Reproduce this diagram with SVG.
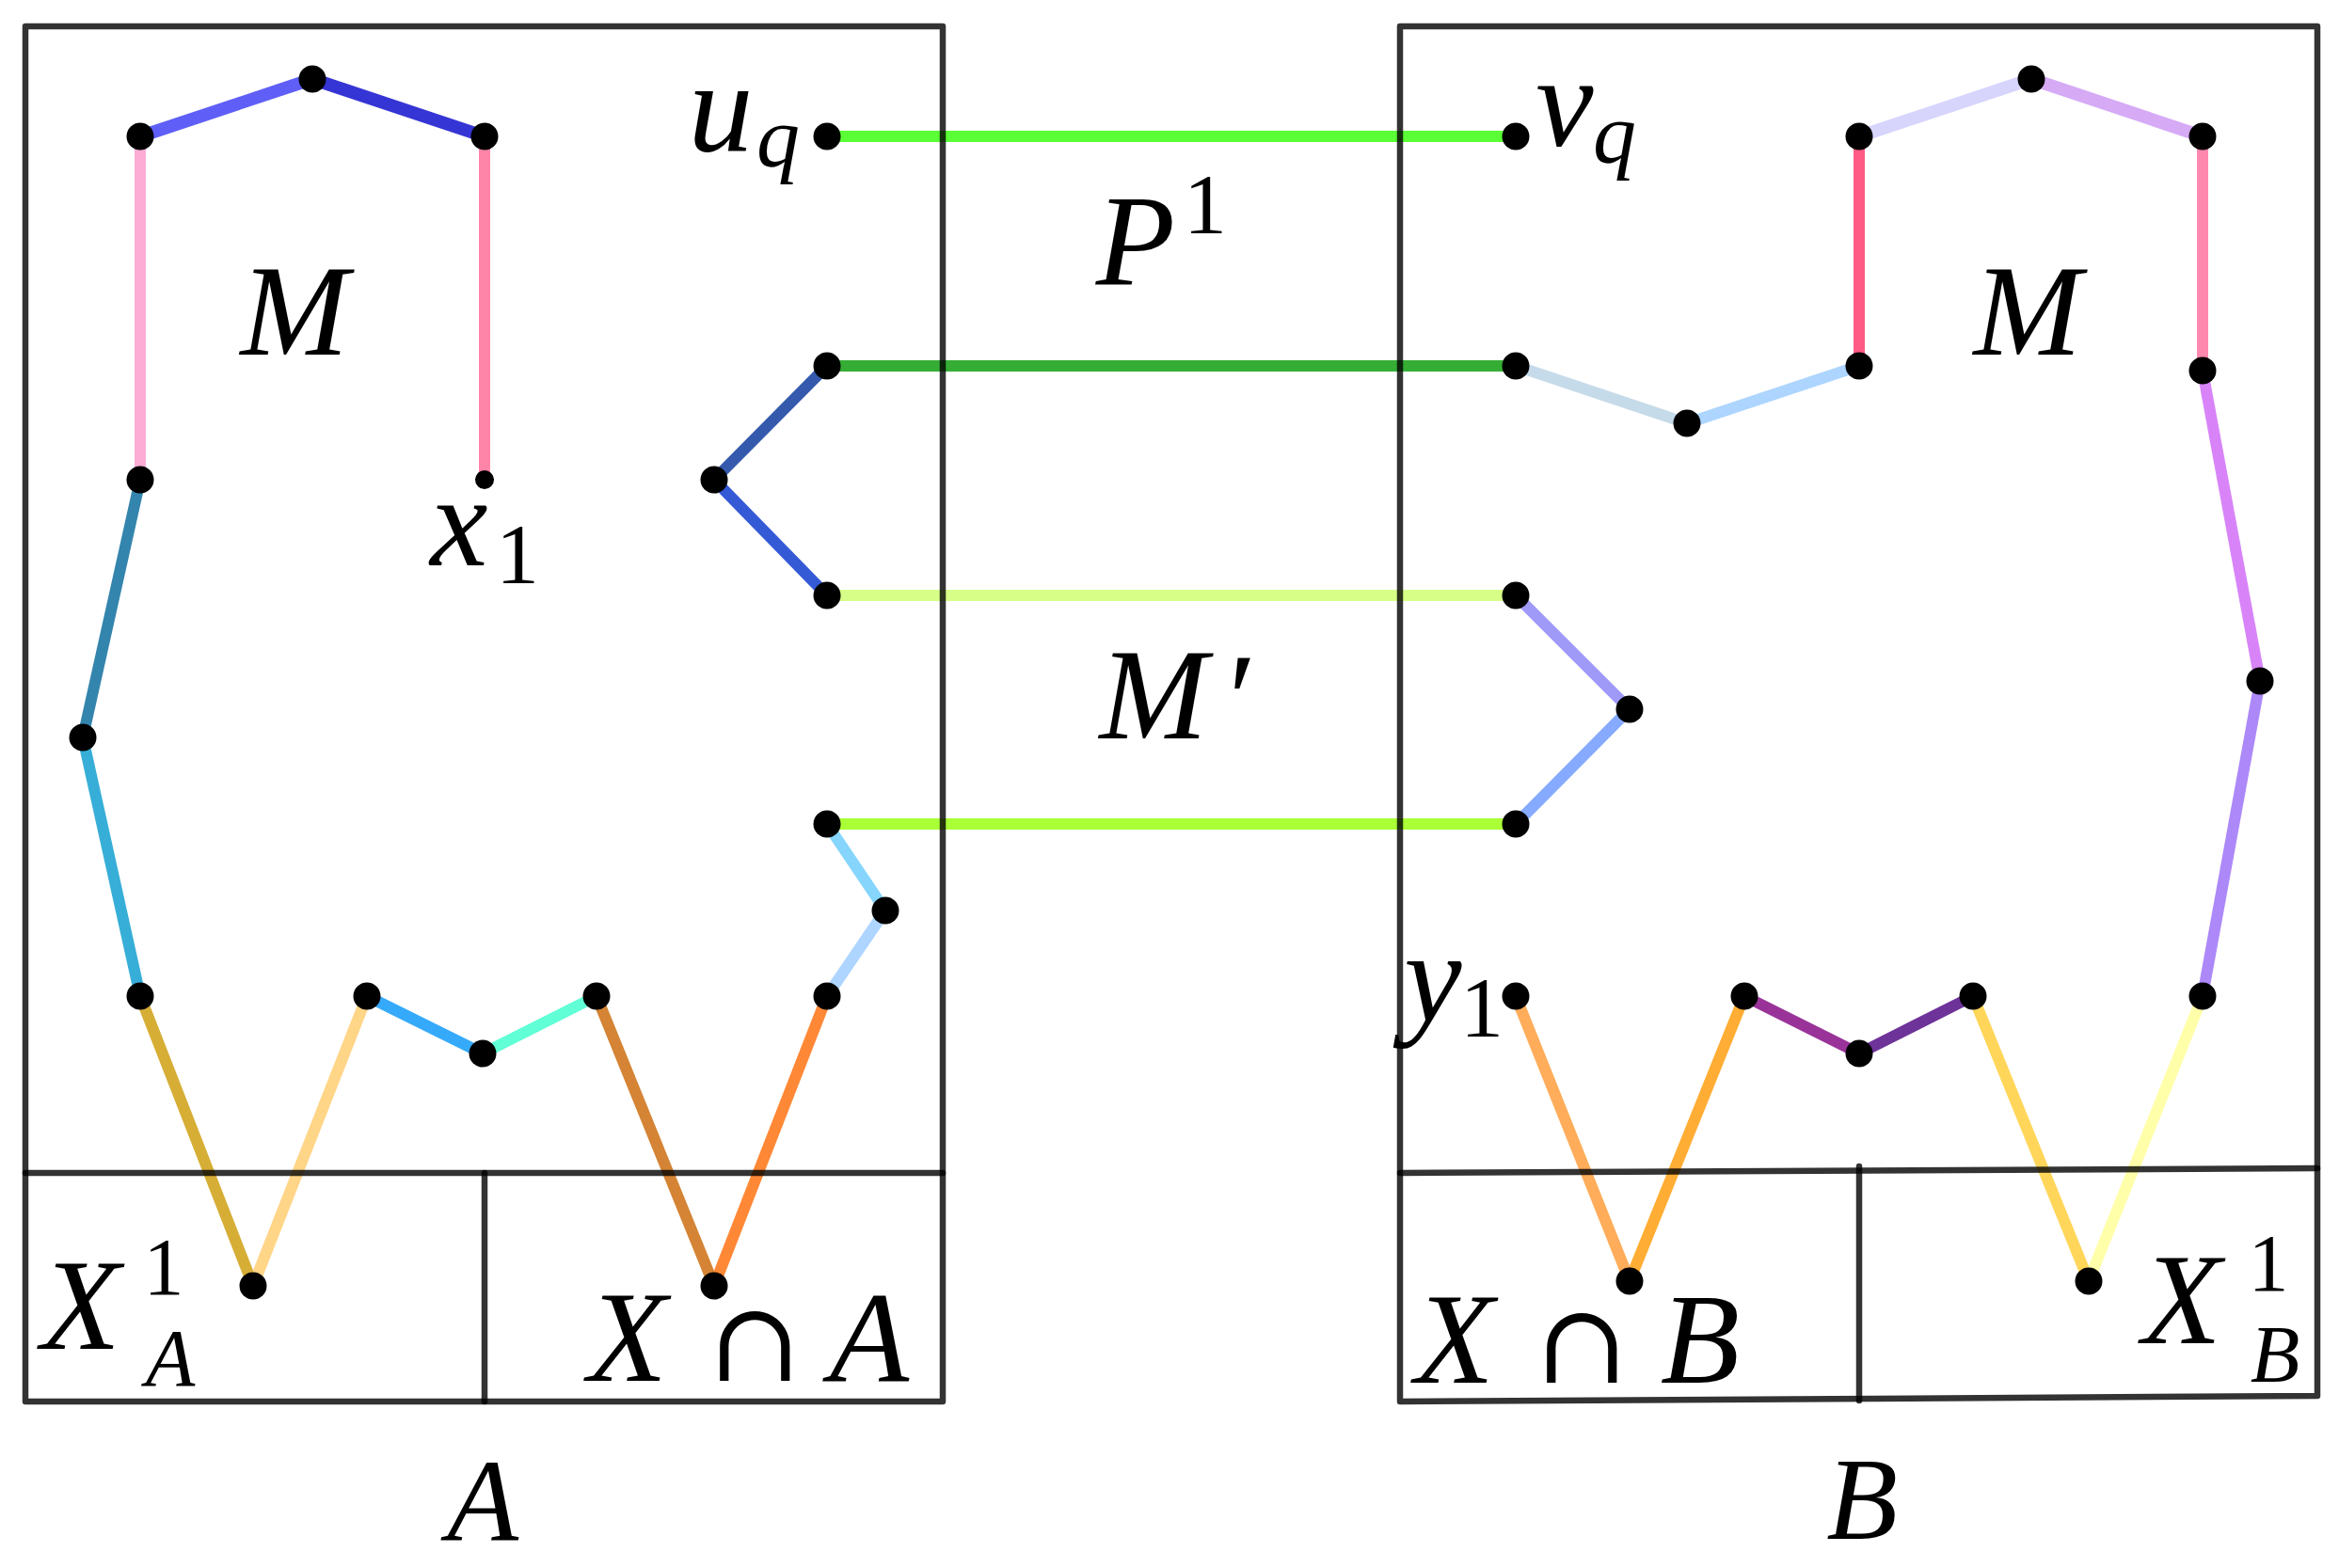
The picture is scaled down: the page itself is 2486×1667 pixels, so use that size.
<svg xmlns="http://www.w3.org/2000/svg" width="2486" height="1667" viewBox="0 0 2486 1667">
<style>
.e{fill:none;stroke-width:12;stroke-linecap:butt}
.t{stroke-width:13.5}
.d{fill:#000}
.box{fill:none;stroke:#000;stroke-opacity:0.8;stroke-width:6.5;stroke-linecap:round;stroke-linejoin:round}
.m{font-family:"Liberation Serif","Times New Roman",serif;font-style:italic;fill:#000;font-size:138px}
.b{font-family:"Liberation Serif","Times New Roman",serif;font-style:italic;fill:#000;font-size:124px}
.s{font-family:"Liberation Serif","Times New Roman",serif;font-style:italic;fill:#000;font-size:92px}
.n{font-family:"Liberation Serif","Times New Roman",serif;font-style:normal;fill:#000;font-size:92px}
.ss{font-family:"Liberation Serif","Times New Roman",serif;font-style:italic;fill:#000;font-size:86px}
.sn{font-family:"Liberation Serif","Times New Roman",serif;font-style:normal;fill:#000;font-size:86px}
.cap{font-family:"DejaVu Serif","Liberation Serif",serif;font-style:normal;fill:#000;font-size:118px}
</style>
<rect width="2486" height="1667" fill="#fff"/>
<g id="connectors">
<line class="e t" x1="149" y1="145" x2="332" y2="84" stroke="#5f5ff7"/>
<line class="e t" x1="332" y1="84" x2="515" y2="145" stroke="#3535d5"/>
<line class="e" x1="149" y1="145" x2="149" y2="510" stroke="#fdacd6"/>
<line class="e" x1="515" y1="145" x2="515" y2="510" stroke="#ff85a8"/>
<line class="e" x1="149" y1="510" x2="88" y2="784" stroke="#3485ad"/>
<line class="e" x1="88" y1="784" x2="149" y2="1059" stroke="#36aed8"/>
<line class="e" x1="149" y1="1059" x2="269" y2="1367" stroke="#d6ae36"/>
<line class="e" x1="269" y1="1367" x2="390" y2="1059" stroke="#ffd588"/>
<line class="e" x1="390" y1="1059" x2="513" y2="1120" stroke="#36aafa"/>
<line class="e" x1="513" y1="1120" x2="634" y2="1059" stroke="#60ffd5"/>
<line class="e" x1="634" y1="1059" x2="759" y2="1367" stroke="#d48434"/>
<line class="e" x1="759" y1="1367" x2="879" y2="1059" stroke="#ff8836"/>
<line class="e" x1="879" y1="1059" x2="941" y2="968" stroke="#add5ff"/>
<line class="e" x1="941" y1="968" x2="879" y2="876" stroke="#85d5fd"/>
<line class="e" x1="879" y1="389" x2="759" y2="510" stroke="#355aad"/>
<line class="e" x1="759" y1="510" x2="879" y2="633" stroke="#355ad6"/>
<line class="e" x1="879" y1="145" x2="1611" y2="145" stroke="#5aff35"/>
<line class="e" x1="879" y1="389" x2="1611" y2="389" stroke="#35ad35"/>
<line class="e" x1="879" y1="633" x2="1611" y2="633" stroke="#d7ff88"/>
<line class="e" x1="879" y1="876" x2="1611" y2="876" stroke="#aaff36"/>
<line class="e t" x1="1976" y1="145" x2="2159" y2="84" stroke="#d8d5fd"/>
<line class="e t" x1="2159" y1="84" x2="2341" y2="145" stroke="#d6aaf5"/>
<line class="e" x1="1976" y1="145" x2="1976" y2="389" stroke="#ff5a85"/>
<line class="e" x1="2341" y1="145" x2="2341" y2="394" stroke="#ff88ae"/>
<line class="e" x1="1611" y1="389" x2="1793" y2="450" stroke="#c6dbea"/>
<line class="e" x1="1793" y1="450" x2="1976" y2="389" stroke="#add5ff"/>
<line class="e" x1="2341" y1="394" x2="2402" y2="724" stroke="#d884f8"/>
<line class="e" x1="2402" y1="724" x2="2341" y2="1059" stroke="#ad88f8"/>
<line class="e" x1="1611" y1="633" x2="1732" y2="754" stroke="#9f99f8"/>
<line class="e" x1="1732" y1="754" x2="1611" y2="876" stroke="#85aaff"/>
<line class="e" x1="1611" y1="1059" x2="1732" y2="1362" stroke="#ffad5a"/>
<line class="e" x1="1732" y1="1362" x2="1854" y2="1059" stroke="#ffad34"/>
<line class="e" x1="1854" y1="1059" x2="1976" y2="1120" stroke="#9a3399"/>
<line class="e" x1="1976" y1="1120" x2="2097" y2="1059" stroke="#6e3399"/>
<line class="e" x1="2097" y1="1059" x2="2220" y2="1362" stroke="#ffd65a"/>
<line class="e" x1="2220" y1="1362" x2="2341" y2="1059" stroke="#ffffaa"/>
</g>
<g id="nodes">
<g id="a1"><circle class="d" cx="149" cy="145" r="14.5"/></g>
<g id="a2"><circle class="d" cx="332" cy="84" r="14.5"/></g>
<g id="a3"><circle class="d" cx="515" cy="145" r="14.5"/></g>
<g id="a4"><circle class="d" cx="149" cy="510" r="14.5"/></g>
<g id="x1"><circle class="d" cx="515" cy="510" r="10"/></g>
<g id="a6"><circle class="d" cx="88" cy="784" r="14.5"/></g>
<g id="a7"><circle class="d" cx="149" cy="1059" r="14.5"/></g>
<g id="a8"><circle class="d" cx="269" cy="1367" r="14.5"/></g>
<g id="a9"><circle class="d" cx="390" cy="1059" r="14.5"/></g>
<g id="a10"><circle class="d" cx="513" cy="1120" r="14.5"/></g>
<g id="a11"><circle class="d" cx="634" cy="1059" r="14.5"/></g>
<g id="a12"><circle class="d" cx="759" cy="1367" r="14.5"/></g>
<g id="a13"><circle class="d" cx="879" cy="1059" r="14.5"/></g>
<g id="a14"><circle class="d" cx="941" cy="968" r="14.5"/></g>
<g id="a15"><circle class="d" cx="879" cy="876" r="14.5"/></g>
<g id="a16"><circle class="d" cx="879" cy="633" r="14.5"/></g>
<g id="a17"><circle class="d" cx="759" cy="510" r="14.5"/></g>
<g id="a18"><circle class="d" cx="879" cy="389" r="14.5"/></g>
<g id="uq"><circle class="d" cx="879" cy="145" r="14.5"/></g>
<g id="vq"><circle class="d" cx="1611" cy="145" r="14.5"/></g>
<g id="b2"><circle class="d" cx="1611" cy="389" r="14.5"/></g>
<g id="b3"><circle class="d" cx="1793" cy="450" r="14.5"/></g>
<g id="b4"><circle class="d" cx="1976" cy="389" r="14.5"/></g>
<g id="b5"><circle class="d" cx="1976" cy="145" r="14.5"/></g>
<g id="b6"><circle class="d" cx="2159" cy="84" r="14.5"/></g>
<g id="b7"><circle class="d" cx="2341" cy="145" r="14.5"/></g>
<g id="b8"><circle class="d" cx="2341" cy="394" r="14.5"/></g>
<g id="b9"><circle class="d" cx="2402" cy="724" r="14.5"/></g>
<g id="b10"><circle class="d" cx="2341" cy="1059" r="14.5"/></g>
<g id="b11"><circle class="d" cx="2220" cy="1362" r="14.5"/></g>
<g id="b12"><circle class="d" cx="2097" cy="1059" r="14.5"/></g>
<g id="b13"><circle class="d" cx="1976" cy="1120" r="14.5"/></g>
<g id="b14"><circle class="d" cx="1854" cy="1059" r="14.5"/></g>
<g id="b15"><circle class="d" cx="1732" cy="1362" r="14.5"/></g>
<g id="y1"><circle class="d" cx="1611" cy="1059" r="14.5"/></g>
<g id="b17"><circle class="d" cx="1611" cy="633" r="14.5"/></g>
<g id="b18"><circle class="d" cx="1732" cy="754" r="14.5"/></g>
<g id="b19"><circle class="d" cx="1611" cy="876" r="14.5"/></g>
</g>
<g id="boxA">
<rect class="box" x="27" y="28" width="975" height="1462"/>
<line class="box" x1="27" y1="1247" x2="1002" y2="1247"/>
<line class="box" x1="515" y1="1247" x2="515" y2="1490"/>
</g>
<g id="boxB">
<polygon class="box" points="1488,28 2463,28 2463,1484 1488,1490"/>
<line class="box" x1="1488" y1="1247" x2="2463" y2="1242"/>
<line class="box" x1="1976" y1="1240" x2="1976" y2="1489"/>
</g>
<g id="labels">
<text class="m" x="313" y="377" text-anchor="middle">M</text>
<text class="m" x="766" y="160" text-anchor="middle">u</text>
<text class="s" x="827" y="177" text-anchor="middle">q</text>
<text class="m" x="488" y="601" text-anchor="middle">x</text>
<text class="n" x="550" y="620" text-anchor="middle">1</text>
<text class="m" x="1207" y="302" text-anchor="middle">P</text>
<text class="n" x="1281" y="248" text-anchor="middle">1</text>
<text class="m" x="1226" y="785" text-anchor="middle">M</text>
<text class="m" x="1312" y="790" text-anchor="middle">′</text>
<text class="m" x="1663" y="155" text-anchor="middle">v</text>
<text class="s" x="1716" y="173" text-anchor="middle">q</text>
<text class="m" x="2155" y="377" text-anchor="middle">M</text>
<text class="m" x="1523" y="1086" text-anchor="middle">y</text>
<text class="n" x="1575" y="1102" text-anchor="middle">1</text>
<text class="m" x="86" y="1434" text-anchor="middle">X</text>
<text class="sn" x="174" y="1376" text-anchor="middle">1</text>
<text class="ss" x="181" y="1473" text-anchor="middle">A</text>
<text class="m" x="667" y="1468" text-anchor="middle">X</text>
<text class="cap" x="802" y="1468" text-anchor="middle">∩</text>
<text class="m" x="924" y="1468" text-anchor="middle">A</text>
<text class="m" x="1546" y="1470" text-anchor="middle">X</text>
<text class="cap" x="1681" y="1470" text-anchor="middle">∩</text>
<text class="m" x="1807" y="1470" text-anchor="middle">B</text>
<text class="m" x="2319" y="1428" text-anchor="middle">X</text>
<text class="sn" x="2411" y="1372" text-anchor="middle">1</text>
<text class="ss" x="2418" y="1469" text-anchor="middle">B</text>
<text class="b" x="513" y="1638" text-anchor="middle">A</text>
<text class="b" x="1979" y="1636" text-anchor="middle">B</text>
</g>
</svg>
